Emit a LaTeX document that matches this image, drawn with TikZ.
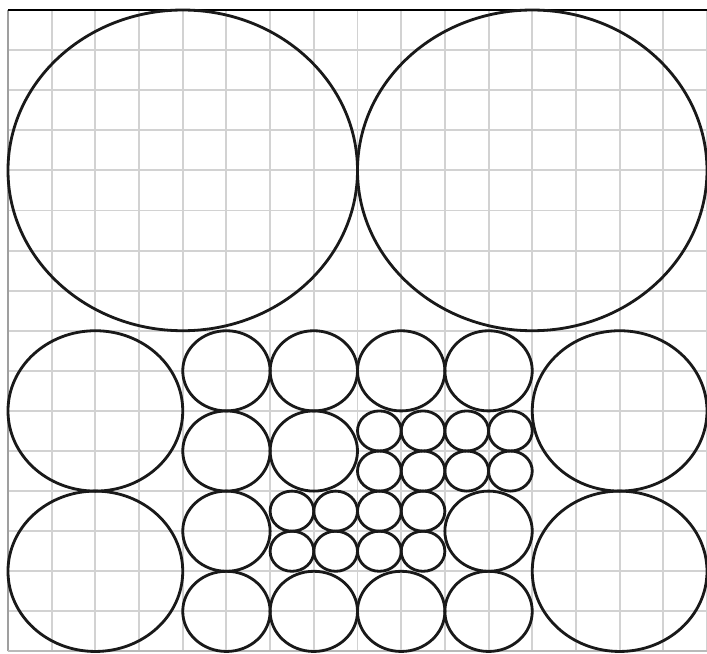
\documentclass[tikz,border=0pt]{standalone}
\usepackage{tikz}

\begin{document}
\begin{tikzpicture}[
  x=0.6cm, y=0.5506cm,
  gridline/.style={draw=gray!35,line width=0.75pt},
  ring/.style={draw=black!90,line width=1.1pt}
]
  \useasboundingbox (-0.183,-0.05) rectangle (16,16.25);

  % grid
  \draw[gridline] (0,0) grid[step=1] (16,16);
  \draw[draw=gray!75,line width=1pt] (0,0) -- (0,16);
  \draw[draw=gray!55,line width=0.8pt] (0,0) -- (16,0);
  \draw[draw=black,line width=1pt] (0,16) -- (16,16);

  % large circles
  \draw[ring] (4,12) circle (4);
  \draw[ring] (12,12) circle (4);

  % medium circles
  \foreach \cx/\cy in {2/6, 14/6, 2/2, 14/2}
    \draw[ring] (\cx,\cy) circle (2);

  % small circles
  \foreach \cx/\cy in {5/7, 7/7, 9/7, 11/7, 5/5, 7/5, 5/3, 11/3,
                       5/1, 7/1, 9/1, 11/1}
    \draw[ring] (\cx,\cy) circle (1);

  % tiny circles
  \foreach \cx in {8.5, 9.5, 10.5, 11.5}
    \foreach \cy in {5.5, 4.5}
      \draw[ring] (\cx,\cy) circle (0.5);
  \foreach \cx in {6.5, 7.5, 8.5, 9.5}
    \foreach \cy in {3.5, 2.5}
      \draw[ring] (\cx,\cy) circle (0.5);
\end{tikzpicture}
\end{document}
